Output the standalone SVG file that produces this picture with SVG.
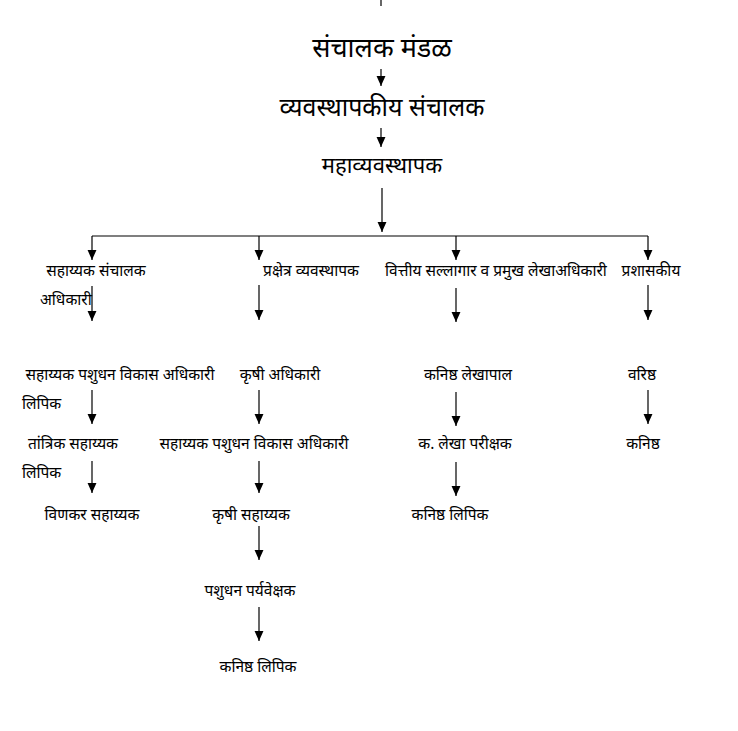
<svg xmlns="http://www.w3.org/2000/svg" width="738" height="731" viewBox="0 0 738 731">
<defs>
<marker id="ah" markerUnits="userSpaceOnUse" markerWidth="10" markerHeight="10" viewBox="0 0 9 8" refX="9" refY="4" orient="auto">
<path d="M0,0 L9,4 L0,8 Z" fill="#000"/>
</marker>
</defs>
<style>
text{font-family:"Noto Sans","Noto Sans Devanagari","Lohit Devanagari",sans-serif;fill:#000;text-anchor:middle}
.t1{font-size:27px}
.t2{font-size:25px}
.t3{font-size:22px}
.n{font-size:15.5px}
.s{text-anchor:start}
line{stroke:#000;stroke-width:1.2}
.a{marker-end:url(#ah)}
</style>
<rect width="738" height="731" fill="#fff"/>
<g id="connectors">
<line x1="381" y1="0" x2="381" y2="6"/>
<line class="a" x1="381" y1="69" x2="381" y2="86"/>
<line class="a" x1="381" y1="128" x2="381" y2="147"/>
<line class="a" x1="382" y1="188" x2="382" y2="232"/>
<line x1="92" y1="236" x2="648" y2="236"/>
<line class="a" x1="92" y1="236" x2="92" y2="260"/>
<line class="a" x1="259" y1="236" x2="259" y2="260"/>
<line class="a" x1="456" y1="236" x2="456" y2="260"/>
<line class="a" x1="648" y1="236" x2="648" y2="260"/>
<line class="a" x1="92" y1="286" x2="92" y2="321"/>
<line class="a" x1="259" y1="285" x2="259" y2="320"/>
<line class="a" x1="456" y1="288" x2="456" y2="322"/>
<line class="a" x1="648" y1="285" x2="648" y2="320"/>
<line class="a" x1="92" y1="390" x2="92" y2="424"/>
<line class="a" x1="259" y1="390" x2="259" y2="424"/>
<line class="a" x1="456" y1="392" x2="456" y2="426"/>
<line class="a" x1="648" y1="390" x2="648" y2="424"/>
<line class="a" x1="92" y1="461" x2="92" y2="493"/>
<line class="a" x1="259" y1="461" x2="259" y2="493"/>
<line class="a" x1="456" y1="462" x2="456" y2="496"/>
<line class="a" x1="259" y1="526" x2="259" y2="560"/>
<line class="a" x1="259" y1="607" x2="259" y2="641"/>
</g>
<g id="n-board"><text class="t1" x="382" y="57">संचालक मंडळ</text></g>
<g id="n-md"><text class="t2" x="382" y="116">व्यवस्थापकीय संचालक</text></g>
<g id="n-gm"><text class="t3" x="382" y="173">महाव्यवस्थापक</text></g>
<g id="n-asst-dir"><text class="n" x="96" y="276">सहाय्यक संचालक</text><text class="n s" x="40" y="305">अधिकारी</text></g>
<g id="n-farm-mgr"><text class="n" x="311" y="276">प्रक्षेत्र व्यवस्थापक</text></g>
<g id="n-finance"><text class="n" x="496" y="276">वित्तीय सल्लागार व प्रमुख लेखाअधिकारी</text></g>
<g id="n-admin"><text class="n" x="651" y="276">प्रशासकीय</text></g>
<g id="n-alddo-1"><text class="n" x="120" y="380">सहाय्यक पशुधन विकास अधिकारी</text><text class="n s" x="22" y="409">लिपिक</text></g>
<g id="n-agri-off"><text class="n" x="280" y="380">कृषी अधिकारी</text></g>
<g id="n-jr-acct"><text class="n" x="468" y="380">कनिष्ठ लेखापाल</text></g>
<g id="n-senior"><text class="n" x="642" y="380">वरिष्ठ</text></g>
<g id="n-tech-asst"><text class="n" x="73" y="449">तांत्रिक सहाय्यक</text><text class="n s" x="22" y="478">लिपिक</text></g>
<g id="n-alddo-2"><text class="n" x="254" y="449">सहाय्यक पशुधन विकास अधिकारी</text></g>
<g id="n-auditor"><text class="n" x="465" y="449">क. लेखा परीक्षक</text></g>
<g id="n-junior"><text class="n" x="643" y="449">कनिष्ठ</text></g>
<g id="n-weaver"><text class="n" x="92" y="520">विणकर सहाय्यक</text></g>
<g id="n-agri-asst"><text class="n" x="251" y="520">कृषी सहाय्यक</text></g>
<g id="n-jr-clerk-1"><text class="n" x="450" y="520">कनिष्ठ लिपिक</text></g>
<g id="n-supervisor"><text class="n" x="250" y="596">पशुधन पर्यवेक्षक</text></g>
<g id="n-jr-clerk-2"><text class="n" x="258" y="672">कनिष्ठ लिपिक</text></g>
</svg>
